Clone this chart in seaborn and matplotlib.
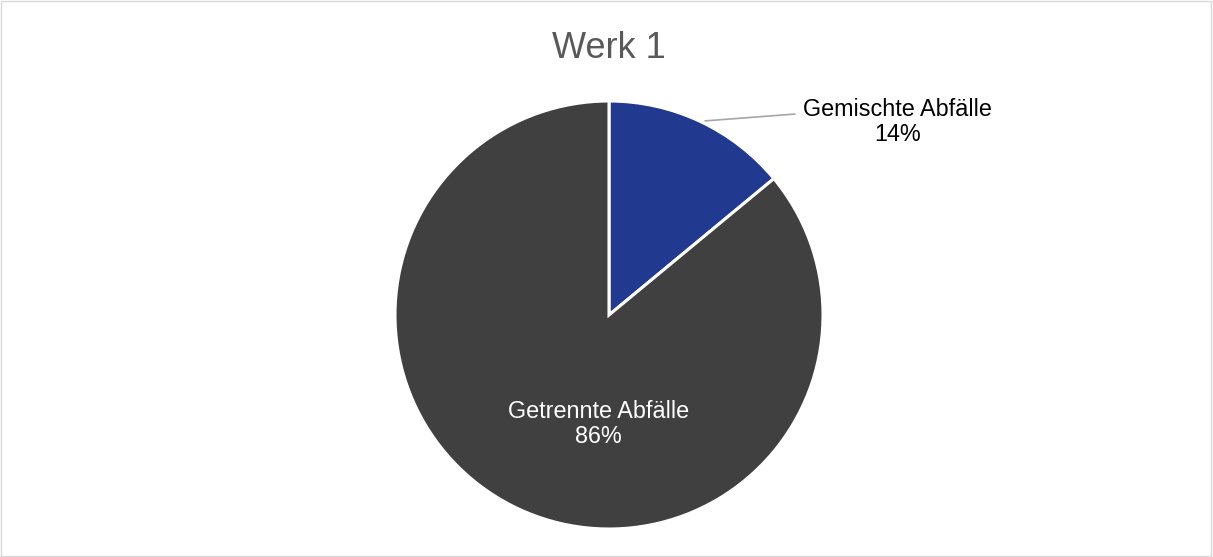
import matplotlib.pyplot as plt
import matplotlib.patches as mpatches
import seaborn as sns

# Chart data
categories = ["Gemischte Abfälle", "Getrennte Abfälle"]
shares = [14, 86]
slice_colors = ["#213A8F", "#404040"]
chart_title = "Werk 1"


def main():
  sns.set_style("white")
  plt.rcParams["font.family"] = ["Liberation Sans", "DejaVu Sans"]

  fig = plt.figure(figsize=(12.13, 5.57), dpi=100)
  # pie centre ~ (609, 315) px, radius ~ 214 px
  ax = fig.add_axes([(609 - 214) / 1213, (557 - 315 - 214) / 557, 428 / 1213, 428 / 557])
  wedges, _ = ax.pie(
      shares,
      colors=slice_colors,
      startangle=90,
      counterclock=False,
      radius=1,
      wedgeprops=dict(edgecolor="white", linewidth=2.2),
  )
  ax.set_xlim(-1, 1)
  ax.set_ylim(-1, 1)
  ax.set_aspect("equal")
  ax.axis("off")

  total = sum(shares)
  # outside label with leader line for the small slice
  ax.plot([0.449, 0.869], [0.907, 0.939], color="#A6A6A6", lw=1.2, clip_on=False)
  ax.text(1.350, 0.900, f"{categories[0]}\n{round(100 * shares[0] / total)}%",
          ha="center", va="center", fontsize=16.8, color="#000000",
          linespacing=1.1, clip_on=False)
  # inside label for the big slice
  ax.text(-0.051, -0.509, f"{categories[1]}\n{round(100 * shares[1] / total)}%",
          ha="center", va="center", fontsize=16.8, color="white", linespacing=1.1)

  fig.text(609 / 1213, 1 - 48 / 557, chart_title, ha="center", va="center",
           fontsize=26, color="#595959")

  # light chart border
  fig.patches.append(mpatches.Rectangle((0.001, 0.002), 0.997, 0.996, transform=fig.transFigure,
                                        fill=False, edgecolor="#D9D9D9", lw=1))
  fig.savefig("out.png", dpi=100, facecolor="white")
  plt.close(fig)


if __name__ == "__main__":
  main()
